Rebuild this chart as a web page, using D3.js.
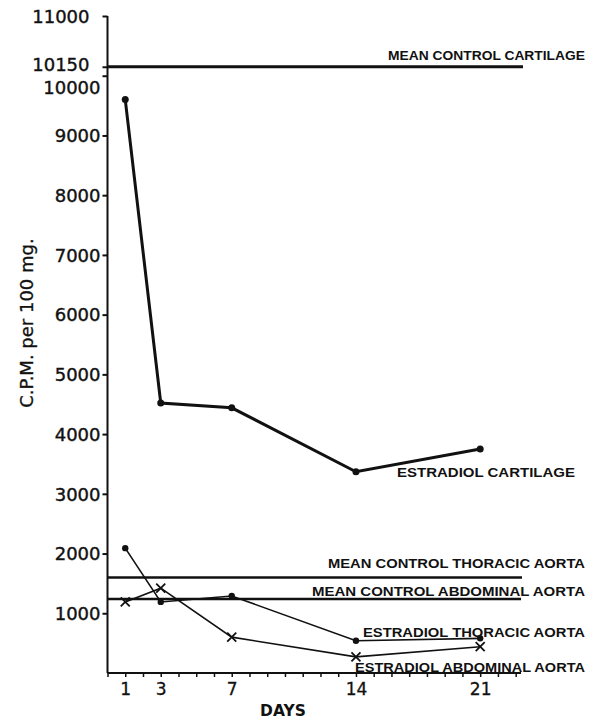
<!DOCTYPE html>
<html><head><meta charset="utf-8">
<script src="https://cdn.jsdelivr.net/npm/d3@7"></script>
<style>body{margin:0;background:#fff}svg{display:block}</style>
</head><body>
<script>
const days = [1, 3, 7, 14, 21];
const cartilage = [9600, 4520, 4440, 3370, 3750];
const thoracic = [2090, 1190, 1290, 540, 580];
const abdominal = [1190, 1420, 600, 270, 440];
const meanCartilage = 10150, meanThoracic = 1600, meanAbdominal = 1240;
const yTicks = [1000,2000,3000,4000,5000,6000,7000,8000,9000,10000,10150,11000];
const xTickLabels = [1,3,7,14,21];

const W = 596, H = 720;
const svg = d3.select("body").append("svg").attr("width", W).attr("height", H);
const x = d3.scaleLinear().domain([0, 23.3]).range([107.5, 521]);
const y = d3.scaleLinear().domain([0, 11000]).range([673, 16]);
const ink = "#111";

// y axis
const ya = svg.append("g").attr("transform", `translate(${x(0)},0)`)
  .call(d3.axisLeft(y).tickValues(yTicks).tickSize(5).tickSizeOuter(0).tickFormat(d3.format("d")));
ya.select(".domain").attr("stroke", ink).attr("stroke-width", 2).attr("d", `M0,${y(11000)}V${y(0)}`);
ya.selectAll(".tick line").attr("stroke", ink).attr("stroke-width", 2);
ya.selectAll(".tick text").attr("font-family", "DejaVu Sans").attr("font-size", 18).attr("fill", ink)
  .attr("stroke", ink).attr("stroke-width", 0.4)
  .attr("x", d => (d === 10150 || d === 11000) ? -18 : -7)
  .attr("dy", d => d === 10000 ? "1.0em" : d === 10150 ? "0.2em" : "0.35em");

// x axis
const xa = svg.append("g").attr("transform", `translate(0,${y(0)})`)
  .call(d3.axisBottom(x).tickValues(d3.range(0, 24)).tickSize(4).tickSizeOuter(0)
    .tickFormat(d => xTickLabels.includes(d) ? d : ""));
xa.select(".domain").attr("stroke", ink).attr("stroke-width", 2).attr("d", `M${x(0)},0H${x(23.3)}`);
xa.selectAll(".tick line").attr("stroke", ink).attr("stroke-width", 1.5);
xa.selectAll(".tick text").attr("font-family", "DejaVu Sans").attr("font-size", 17).attr("fill", ink)
  .attr("stroke", ink).attr("stroke-width", 0.3).attr("dy", "0.9em");

svg.append("text").attr("x", 283).attr("y", 716).attr("text-anchor", "middle")
  .attr("font-family", "DejaVu Sans").attr("font-weight", "bold").attr("font-size", 15.5).attr("fill", ink).text("DAYS");
svg.append("text").attr("transform", "translate(33,323) rotate(-90)").attr("text-anchor", "middle")
  .attr("font-family", "DejaVu Sans").attr("font-size", 18).attr("fill", ink)
  .attr("stroke", ink).attr("stroke-width", 0.3).text("C.P.M. per 100 mg.");

// mean lines
[[meanCartilage, 523, 3],[meanThoracic, 522, 2.5],[meanAbdominal, 521, 2.5]].forEach(([v, xe, w]) => {
  svg.append("line").attr("x1", x(0)).attr("x2", xe).attr("y1", y(v)).attr("y2", y(v))
    .attr("stroke", ink).attr("stroke-width", w);
});

const line = d3.line().x((d, i) => x(days[i])).y(d => y(d));
svg.append("path").datum(cartilage).attr("d", line).attr("fill", "none").attr("stroke", ink).attr("stroke-width", 3);
svg.append("path").datum(thoracic).attr("d", line).attr("fill", "none").attr("stroke", ink).attr("stroke-width", 1.6);
svg.append("path").datum(abdominal).attr("d", line).attr("fill", "none").attr("stroke", ink).attr("stroke-width", 1.6);

svg.selectAll(".dc").data(cartilage).join("circle").attr("cx", (d, i) => x(days[i])).attr("cy", d => y(d)).attr("r", 3.5).attr("fill", ink);
svg.selectAll(".dt").data(thoracic).join("circle").attr("cx", (d, i) => x(days[i])).attr("cy", d => y(d)).attr("r", 3.2).attr("fill", ink);
svg.selectAll(".da").data(abdominal).join("path")
  .attr("d", (d, i) => { const cx = x(days[i]), cy = y(d), s = 4.5; return `M${cx-s},${cy-s}L${cx+s},${cy+s}M${cx-s},${cy+s}L${cx+s},${cy-s}`; })
  .attr("stroke", ink).attr("stroke-width", 1.8);

// labels
const labels = [
  ["MEAN CONTROL CARTILAGE", 388, 585, 60],
  ["MEAN CONTROL THORACIC AORTA", 328, 585, 568],
  ["MEAN CONTROL ABDOMINAL AORTA", 312, 585, 596],
  ["ESTRADIOL THORACIC AORTA", 363, 585, 637],
  ["ESTRADIOL ABDOMINAL AORTA", 355, 585, 672],
  ["ESTRADIOL CARTILAGE", 397, 575, 477]
];
labels.forEach(([t, x1, x2, yy]) => {
  svg.append("text").attr("x", x1).attr("y", yy).attr("textLength", x2 - x1).attr("lengthAdjust", "spacingAndGlyphs")
    .attr("font-family", "Liberation Sans").attr("font-weight", "bold").attr("font-size", 13.5).attr("fill", ink).text(t);
});
</script>
</body></html>
